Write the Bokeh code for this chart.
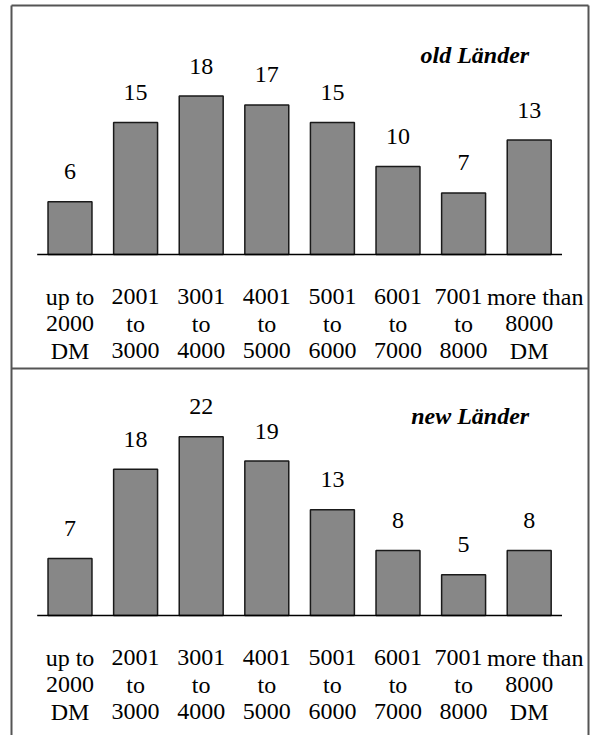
import numpy as np
from bokeh.plotting import figure
from bokeh.models import Range1d, ColumnDataSource
from bokeh.core.properties import value
from bokeh.embed import file_html
from bokeh.resources import INLINE

# ---- data -------------------------------------------------------------
categories = ["up to\n2000\nDM", "2001\nto\n3000", "3001\nto\n4000", "4001\nto\n5000",
              "5001\nto\n6000", "6001\nto\n7000", "7001\nto\n8000", "more than\n8000\nDM"]
old_laender = [6, 15, 18, 17, 15, 10, 7, 13]
new_laender = [7, 18, 22, 19, 13, 8, 5, 8]
panel_titles = ["old Länder", "new Länder"]

# ---- layout constants (pixels) ---------------------------------------
W, H = 590, 735
XS = 65.6                      # px per category
X_START = -69.5 / XS
X_END = X_START + W / XS
TOP_BASE, TOP_SCALE = 254, 8.8     # baseline (canvas px) and px per unit
BOT_BASE, BOT_SCALE = 615, 8.13

FONT = value("Liberation Serif")
FSIZE = "24px"
BAR_FILL = "#878787"
BAR_LINE = "#1a1a1a"
BORDER = "#555555"
LINE_GAP = 27                       # px between label lines
FIRST_LINE = 42                     # px below bar baseline (line 1 anchor)
VALUE_GAP = 30                      # px above bar top (value label anchor)
TITLE_RISE = 200                    # px above bar baseline (title anchor)

p = figure(width=W, height=H, output_backend="svg", toolbar_location=None, tools="",
           x_range=Range1d(X_START, X_END),
           y_range=Range1d(-(H - TOP_BASE) / TOP_SCALE, TOP_BASE / TOP_SCALE),
           x_axis_location=None, y_axis_location=None,
           min_border=0, outline_line_color=None)
p.extra_y_ranges = {"new": Range1d(-(H - BOT_BASE) / BOT_SCALE, BOT_BASE / BOT_SCALE)}
p.grid.grid_line_color = None
p.background_fill_color = "white"
p.border_fill_color = "white"


def dx(px):
    return X_START + px / XS


def dy(py):
    return TOP_BASE / TOP_SCALE - py / TOP_SCALE


# ---- panel borders ----------------------------------------------------
p.segment(x0=[dx(11), dx(11), dx(588), dx(11)], x1=[dx(588), dx(11), dx(588), dx(588)],
          y0=[dy(5), dy(5), dy(5), dy(368)], y1=[dy(5), dy(H + 5), dy(H + 5), dy(368)],
          line_color=BORDER, line_width=2)

idx = np.arange(len(categories))
panels = [(old_laender, panel_titles[0], "default", TOP_SCALE),
          (new_laender, panel_titles[1], "new", BOT_SCALE)]

# category labels split into lines (small nudges where neighbouring lines would touch)
nudge = {(6, 0): -5, (7, 0): 6}
lx, lrow, ltxt, loff = [], [], [], []
for i, c in enumerate(categories):
    for r, t in enumerate(c.split("\n")):
        lx.append(i)
        lrow.append(r)
        ltxt.append(t)
        loff.append(nudge.get((i, r), 0))
lrow = np.array(lrow)

for vals, title, yname, scale in panels:
    vals = np.array(vals)
    src = ColumnDataSource(dict(x=idx, top=vals, lab=[str(v) for v in vals],
                                lab_y=vals + VALUE_GAP / scale))
    p.vbar(x="x", top="top", bottom=0, width=0.67, source=src, y_range_name=yname,
           fill_color=BAR_FILL, line_color=BAR_LINE, line_width=1.5)
    p.segment(x0=[-0.5], x1=[len(categories) - 0.5], y0=[0], y1=[0],
              y_range_name=yname, line_color="black", line_width=1.5)
    p.text(x="x", y="lab_y", text="lab", source=src, y_range_name=yname,
           text_font=FONT, text_font_size=FSIZE, text_color="black",
           text_align="center", text_baseline="alphabetic")
    csrc = ColumnDataSource(dict(x=lx, y=-(FIRST_LINE + lrow * LINE_GAP) / scale,
                                 t=ltxt, off=loff))
    p.text(x="x", y="y", text="t", x_offset="off", source=csrc, y_range_name=yname,
           text_font=FONT, text_font_size=FSIZE, text_color="black",
           text_align="center", text_baseline="alphabetic")
    p.text(x=[len(categories) - 1], y=[TITLE_RISE / scale], text=[title], y_range_name=yname,
           text_font=FONT, text_font_size=FSIZE, text_font_style="bold italic",
           text_color="black", text_align="right", text_baseline="alphabetic")

open("out.html", "w").write(file_html(p, INLINE))
